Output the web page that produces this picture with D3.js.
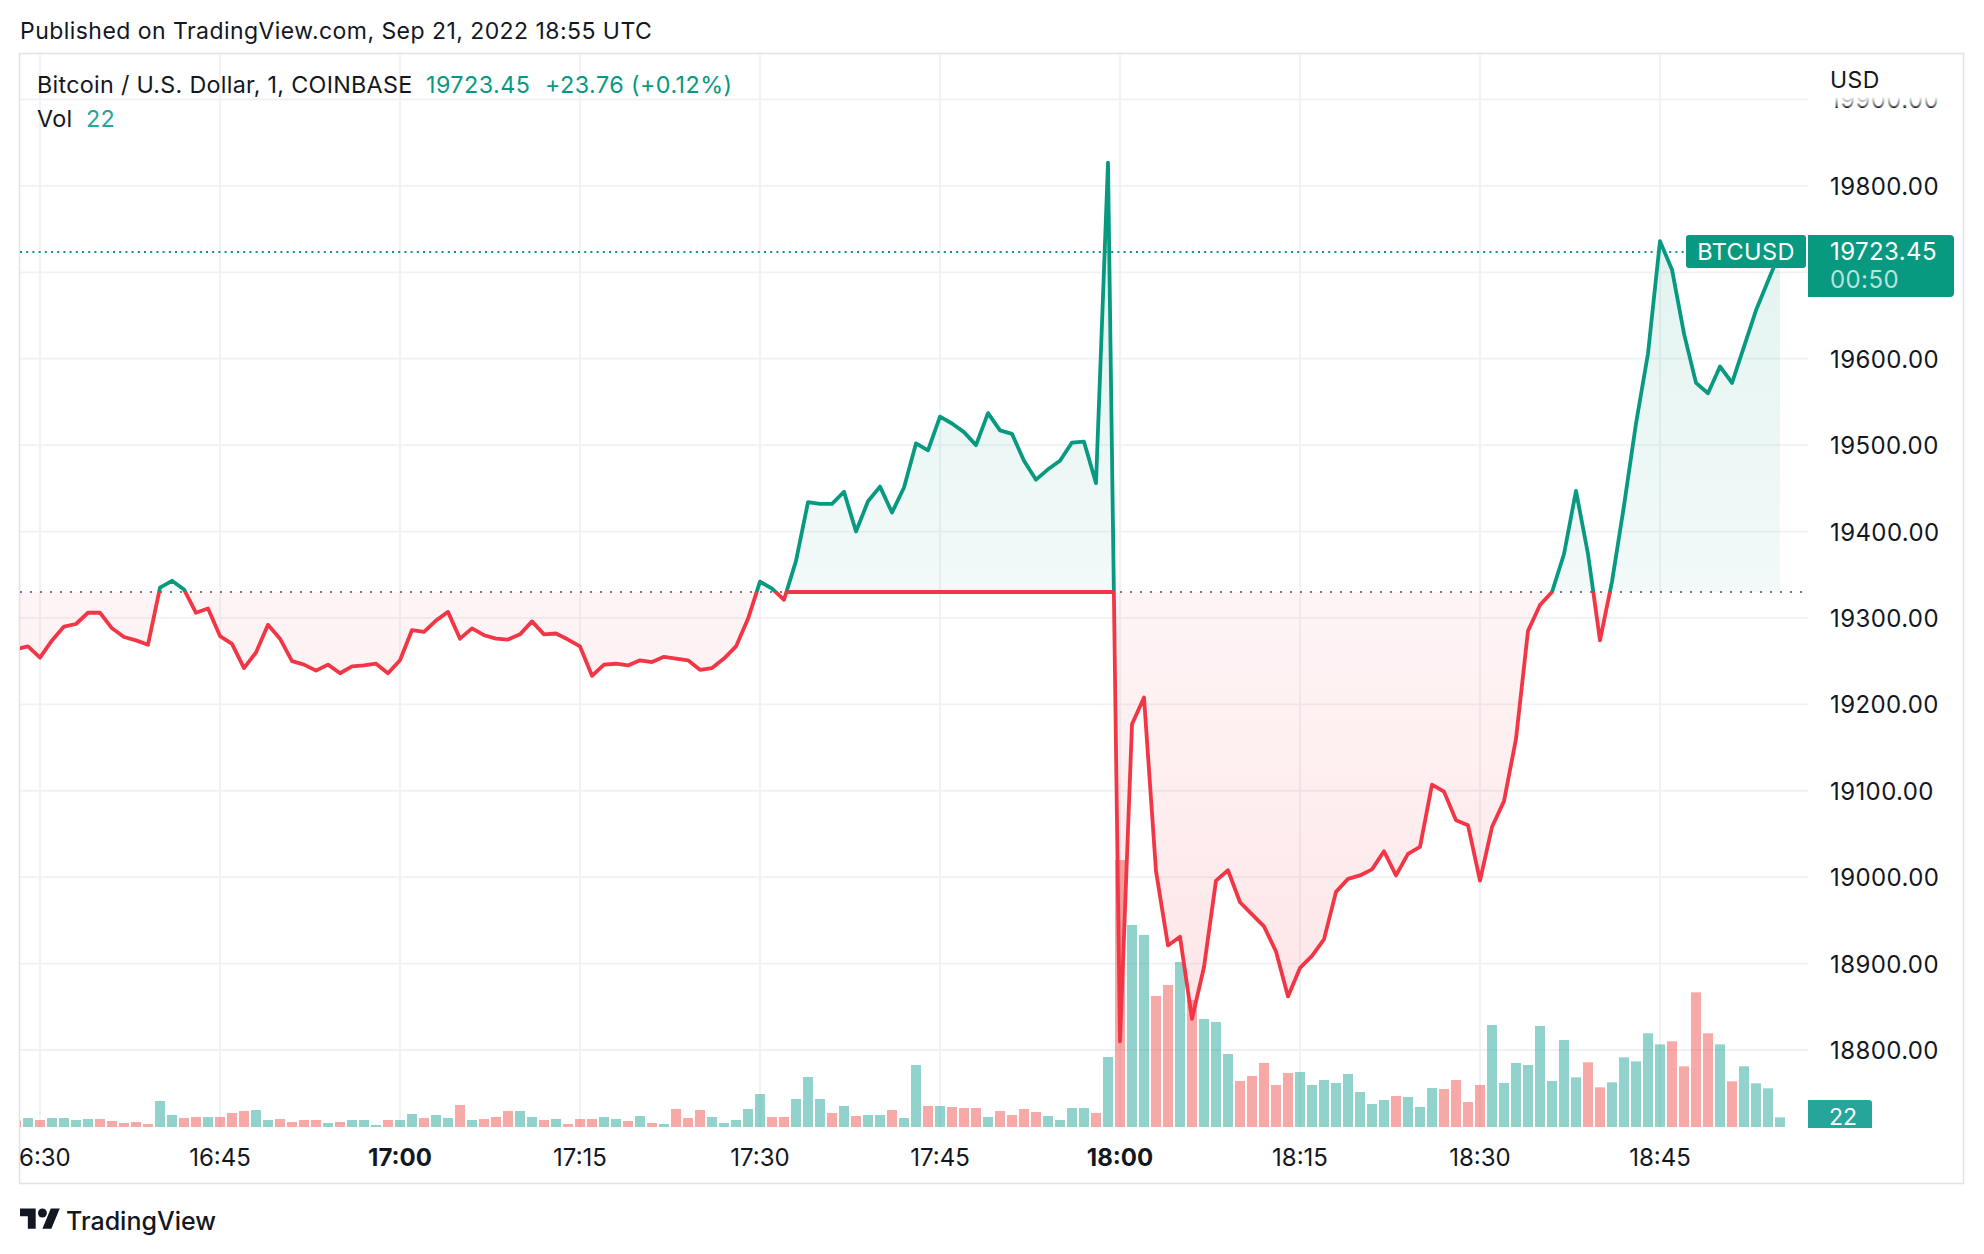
<!DOCTYPE html>
<html><head><meta charset="utf-8">
<script src="https://cdn.jsdelivr.net/npm/d3@7"></script>
<style>
html,body{margin:0;padding:0;background:#fff;}
svg{display:block;font-family:Inter,Roboto,"Noto Sans",sans-serif;}
</style>
</head><body>
<svg id="chart" width="1984" height="1254"></svg>
<script>
// ---------------- DATA ----------------
const startMinute = "16:28";           // first 1-minute bar (UTC, 2022-09-21)
const prices = [
  19264, 19267,
  19254, 19274, 19290, 19293, 19306, 19306, 19288, 19278, 19274, 19269, 19335, 19343, 19333, 19306, 19311,
  19279, 19270, 19242, 19260, 19292, 19276, 19250, 19246, 19239, 19246, 19236, 19244, 19245, 19247, 19236,
  19251, 19286, 19284, 19297, 19307, 19276, 19288, 19280, 19276, 19275, 19281, 19296, 19281, 19282, 19275,
  19267, 19233, 19246, 19247, 19245, 19251, 19249, 19255, 19253, 19251, 19240, 19242, 19253, 19267, 19299,
  19342, 19334, 19321, 19366, 19434, 19432, 19432, 19446, 19400, 19435, 19452, 19422, 19451, 19502, 19494,
  19533, 19525, 19515, 19500, 19537, 19517, 19513, 19482, 19460, 19472, 19482, 19503, 19504, 19456, 19827,
  18810, 19177, 19208, 19007, 18921, 18931, 18836, 18896, 18996, 19008, 18971, 18957, 18943, 18914, 18862,
  18895, 18909, 18928, 18983, 18998, 19002, 19009, 19030, 19002, 19027, 19035, 19107, 19099, 19066, 19060,
  18996, 19058, 19088, 19160, 19285, 19315, 19330, 19374, 19447, 19374, 19274, 19342, 19430, 19525, 19606,
  19736, 19703, 19629, 19572, 19560, 19591, 19572, 19614, 19656, 19690, 19723.45
];
const volumes = [
  14.4, 20.5,
  15.9, 20.5, 20.5, 15.9, 18.2, 18.2, 13.7, 9.1, 11.4, 6.8, 59.2, 27.3, 20.5, 22.8, 22.8,
  22.8, 31.9, 36.4, 38.7, 15.9, 18.2, 11.4, 15.9, 15.9, 9.1, 11.4, 15.9, 15.9, 4.6, 15.9,
  15.9, 29.6, 20.5, 27.3, 20.5, 50.1, 15.9, 18.2, 22.8, 36.4, 36.4, 22.8, 15.9, 18.2, 6.8,
  18.2, 18.2, 22.8, 18.2, 13.7, 25.0, 9.1, 6.8, 41.0, 20.5, 38.7, 22.8, 9.1, 15.9, 41.0,
  75.1, 22.8, 22.8, 63.7, 113.8, 63.7, 31.9, 47.8, 25.0, 27.3, 27.3, 38.7, 20.5, 141.1, 47.8,
  47.8, 45.5, 43.2, 43.2, 22.8, 36.4, 27.3, 41.0, 34.1, 25.0, 15.9, 43.2, 43.2, 31.9, 159.3,
  607.6, 459.7, 437.0, 298.1, 323.2, 375.5, 289.0, 245.8, 239.0, 166.1, 104.7, 116.1, 145.7, 95.6, 122.9,
  125.2, 95.6, 107.0, 100.1, 120.6, 79.7, 52.3, 61.4, 70.5, 68.3, 45.5, 88.8, 86.5, 107.0, 56.9,
  95.6, 232.1, 100.1, 145.7, 141.1, 229.9, 104.7, 198.0, 113.0, 147.2, 90.3, 101.7, 158.5, 149.4, 213.2,
  188.1, 195.0, 138.1, 306.5, 213.2, 188.1, 103.9, 138.1, 99.4, 88.0, 22
];
const volumeUp = [
  0, 1,
  0,1,1,1,1,0,0,0,0,0,1,1,0,0,1,
  0,0,0,1,1,0,0,0,0,1,0,1,1,1,0,
  1,1,0,1,1,0,1,0,0,0,1,1,0,1,0,
  0,0,1,1,0,1,0,1,0,0,0,1,1,1,1,
  1,0,0,1,1,1,0,1,0,1,1,0,1,1,0,
  1,0,0,0,1,0,0,0,0,1,1,1,1,0,1,
  0,1,1,0,0,1,0,1,1,1,0,0,0,0,0,
  1,1,1,1,1,1,1,1,0,1,1,1,0,0,0,
  0,1,1,1,1,1,1,1,1,0,0,1,1,1,1,
  1,0,0,0,0,1,0,1,1,1,1
];
const priceTicks = [18800, 18900, 19000, 19100, 19200, 19300, 19400, 19500, 19600, 19700, 19800, 19900];
const timeTicks = ["16:30","16:45","17:00","17:15","17:30","17:45","18:00","18:15","18:30","18:45"];
const boldTimeTicks = ["17:00","18:00"];
const baseValue = 19330;
const lastPrice = 19723.45;
const lastVolume = 22;
const priceChange = "+23.76 (+0.12%)";
const countdown = "00:50";
const symbolTitle = "Bitcoin / U.S. Dollar, 1, COINBASE";
const tickerLabel = "BTCUSD";
const currencyLabel = "USD";
const publishedText = "Published on TradingView.com, Sep 21, 2022 18:55 UTC";
const redBaseSpan = ["17:32", "18:00"];   // span where the lower line is drawn along the base

// ---------------- SETUP ----------------
const GREEN = "#089981", RED = "#F23645", TEXT = "#131722";
const VOL_UP = "rgba(38,166,154,0.5)", VOL_DN = "rgba(239,83,80,0.5)";
const pane = {left: 20, right: 1808, top: 54, bottom: 1128};
const day = (hm) => { const [h, m] = hm.split(":").map(Number); return new Date(Date.UTC(2022, 8, 21, h, m)); };
const t0 = day(startMinute);
const data = prices.map((p, i) => ({t: new Date(+t0 + i * 60000), p, v: volumes[i], up: volumeUp[i]}));
const idxOf = (hm) => Math.round((day(hm) - t0) / 60000);

const svg = d3.select("#chart");
const x = d3.scaleUtc().domain([day("16:30"), day("18:00")]).range([40, 1120]);
const y = d3.scaleLinear().domain([18800, 19700]).range([1050, 272.3]);
const yv = d3.scaleLinear().domain([0, d3.max(volumes)]).range([1127, 860]);
const yBase = y(baseValue);
const fmt = d3.format(".2f");

svg.append("rect").attr("width", 1984).attr("height", 1254).attr("fill", "#fff");

const defs = svg.append("defs");
defs.append("clipPath").attr("id", "paneClip").append("rect")
  .attr("x", pane.left).attr("y", pane.top).attr("width", pane.right - pane.left).attr("height", pane.bottom - pane.top);
defs.append("clipPath").attr("id", "aboveClip").append("rect")
  .attr("x", pane.left).attr("y", pane.top).attr("width", pane.right - pane.left).attr("height", yBase - pane.top);
defs.append("clipPath").attr("id", "belowClip").append("rect")
  .attr("x", pane.left).attr("y", yBase).attr("width", pane.right - pane.left).attr("height", pane.bottom - yBase);
defs.append("clipPath").attr("id", "timeClip").append("rect")
  .attr("x", pane.left).attr("y", pane.bottom).attr("width", pane.right - pane.left).attr("height", 60);
const gUp = defs.append("linearGradient").attr("id", "gUp").attr("gradientUnits", "userSpaceOnUse")
  .attr("x1", 0).attr("x2", 0).attr("y1", y(19830)).attr("y2", yBase);
gUp.append("stop").attr("offset", 0).attr("stop-color", GREEN).attr("stop-opacity", 0.13);
gUp.append("stop").attr("offset", 1).attr("stop-color", GREEN).attr("stop-opacity", 0.05);
const gDn = defs.append("linearGradient").attr("id", "gDn").attr("gradientUnits", "userSpaceOnUse")
  .attr("x1", 0).attr("x2", 0).attr("y1", yBase).attr("y2", y(18810));
gDn.append("stop").attr("offset", 0).attr("stop-color", RED).attr("stop-opacity", 0.05);
gDn.append("stop").attr("offset", 1).attr("stop-color", RED).attr("stop-opacity", 0.13);
const gFade = defs.append("linearGradient").attr("id", "gFade").attr("x1", 0).attr("x2", 0).attr("y1", 0).attr("y2", 1);
gFade.append("stop").attr("offset", 0.8).attr("stop-color", "#fff").attr("stop-opacity", 1);
gFade.append("stop").attr("offset", 1).attr("stop-color", "#fff").attr("stop-opacity", 0.3);

// frame
svg.append("rect").attr("x", 19.5).attr("y", 53.5).attr("width", 1944).attr("height", 1130)
  .attr("fill", "none").attr("stroke", "#e0e3eb").attr("stroke-width", 1.6);

// grid
const grid = svg.append("g").attr("clip-path", "url(#paneClip)").attr("stroke", "#f0f1f4").attr("stroke-width", 1.8);
grid.selectAll(".vg").data(timeTicks).join("line")
  .attr("x1", d => x(day(d))).attr("x2", d => x(day(d))).attr("y1", pane.top).attr("y2", pane.bottom);
grid.selectAll(".hg").data(priceTicks).join("line")
  .attr("x1", pane.left).attr("x2", pane.right).attr("y1", d => y(d)).attr("y2", d => y(d));

// volume
const barW = 10;
svg.append("g").attr("clip-path", "url(#paneClip)").selectAll("rect").data(data).join("rect")
  .attr("x", d => x(d.t) - barW / 2).attr("width", barW)
  .attr("y", d => yv(d.v)).attr("height", d => yv(0) - yv(d.v))
  .attr("fill", d => d.up ? VOL_UP : VOL_DN);

// baseline fills
const area = d3.area().x(d => x(d.t)).y0(yBase).y1(d => y(d.p));
svg.append("path").datum(data).attr("d", area).attr("fill", "url(#gUp)").attr("clip-path", "url(#aboveClip)");
svg.append("path").datum(data).attr("d", area).attr("fill", "url(#gDn)").attr("clip-path", "url(#belowClip)");

// base dotted line
svg.append("line").attr("x1", pane.left).attr("x2", pane.right).attr("y1", yBase).attr("y2", yBase)
  .attr("stroke", "#787b86").attr("stroke-width", 2).attr("stroke-dasharray", "2 8");

// lines
const LW = 3.8;
const line = d3.line().x(d => x(d.t)).y(d => y(d.p));
svg.append("path").datum(data).attr("d", line).attr("fill", "none").attr("stroke", GREEN)
  .attr("stroke-width", LW).attr("stroke-linejoin", "round").attr("clip-path", "url(#aboveClip)");
svg.append("path").datum(data).attr("d", line).attr("fill", "none").attr("stroke", RED)
  .attr("stroke-width", LW).attr("stroke-linejoin", "round").attr("clip-path", "url(#belowClip)");

// lower line drawn along the base
function crossX(a, b) { const f = (baseValue - a.p) / (b.p - a.p); return x(a.t) + f * (x(b.t) - x(a.t)); }
const i0 = idxOf(redBaseSpan[0]), i1 = idxOf(redBaseSpan[1]);
svg.append("line").attr("x1", crossX(data[i0], data[i0 + 1])).attr("x2", crossX(data[i1 - 1], data[i1]))
  .attr("y1", yBase).attr("y2", yBase).attr("stroke", RED).attr("stroke-width", LW);

// last price dotted line
const yLast = y(lastPrice);
svg.append("line").attr("x1", pane.left).attr("x2", 1686).attr("y1", yLast).attr("y2", yLast)
  .attr("stroke", GREEN).attr("stroke-width", 2).attr("stroke-dasharray", "2 4.2");

// ticker label
svg.append("rect").attr("x", 1686).attr("y", yLast - 17).attr("width", 120).attr("height", 33).attr("rx", 3).attr("fill", GREEN);
svg.append("text").attr("x", 1746).attr("y", yLast + 8).attr("text-anchor", "middle").attr("fill", "#fff")
  .attr("font-size", 23.5).attr("letter-spacing", 0.4).text(tickerLabel);

// price axis labels
const axisG = svg.append("g").attr("font-size", 24).attr("letter-spacing", 0.4).attr("fill", TEXT);
axisG.selectAll("text").data(priceTicks.filter(d => d !== 19700)).join("text")
  .attr("x", 1830).attr("y", d => y(d) + 9).text(d => fmt(d));
svg.append("rect").attr("x", 1809).attr("y", 55).attr("width", 153).attr("height", 52).attr("fill", "url(#gFade)");
svg.append("text").attr("x", 1830).attr("y", 88).attr("font-size", 23).attr("letter-spacing", 0.4).attr("fill", TEXT).text(currencyLabel);

// last price box
const bx = 1808, bw = 146, by = yLast - 17, bh = 62, r = 4;
svg.append("path").attr("fill", GREEN)
  .attr("d", `M${bx},${by}H${bx + bw - r}Q${bx + bw},${by} ${bx + bw},${by + r}V${by + bh - r}Q${bx + bw},${by + bh} ${bx + bw - r},${by + bh}H${bx}Z`);
svg.append("text").attr("x", 1830).attr("y", yLast + 8).attr("font-size", 24).attr("letter-spacing", 0.4).attr("fill", "#fff").text(fmt(lastPrice));
svg.append("text").attr("x", 1830).attr("y", yLast + 36).attr("font-size", 24).attr("letter-spacing", 0.4).attr("fill", "rgba(255,255,255,0.72)").text(countdown);

// volume label box
const vy = yv(0);
svg.append("path").attr("fill", "#26a69a")
  .attr("d", `M1808,${vy - 27}H1869Q1872,${vy - 27} 1872,${vy - 24}V${vy + 1}H1808Z`);
svg.append("text").attr("x", 1843).attr("y", vy - 2).attr("text-anchor", "middle").attr("font-size", 23)
  .attr("fill", "#fff").text(lastVolume);

// time axis
svg.append("g").attr("clip-path", "url(#timeClip)").selectAll("text").data(timeTicks).join("text")
  .attr("x", d => x(day(d))).attr("y", 1166).attr("text-anchor", "middle").attr("font-size", 24)
  .attr("font-weight", d => boldTimeTicks.includes(d) ? 700 : 400).attr("fill", TEXT).text(d => d);

// header texts
svg.append("text").attr("x", 20).attr("y", 39).attr("font-size", 23).attr("letter-spacing", 0.45).attr("fill", TEXT).text(publishedText);
const lg = svg.append("g").attr("font-size", 23.3).attr("letter-spacing", 0.3);
lg.append("text").attr("x", 37).attr("y", 93).attr("fill", TEXT).text(symbolTitle);
lg.append("text").attr("x", 426).attr("y", 93).attr("fill", GREEN).attr("letter-spacing", 0.45).text(fmt(lastPrice));
lg.append("text").attr("x", 545).attr("y", 93).attr("fill", GREEN).attr("letter-spacing", 0.45).text(priceChange);
lg.append("text").attr("x", 37).attr("y", 127).attr("fill", TEXT).text("Vol");
lg.append("text").attr("x", 86).attr("y", 127).attr("fill", "#26a69a").text(lastVolume);

// footer logo
const logo = svg.append("g").attr("transform", "translate(20,1204) scale(1.12)").attr("fill", TEXT);
logo.append("path").attr("d", "M14 22H7V11H0V4h14v18zM28 22h-8l7.5-18h8L28 22z");
logo.append("circle").attr("cx", 20).attr("cy", 8).attr("r", 4);
svg.append("text").attr("x", 66).attr("y", 1230).attr("font-size", 25).attr("font-weight", 500)
  .attr("fill", TEXT).text("TradingView");
</script>
</body></html>
